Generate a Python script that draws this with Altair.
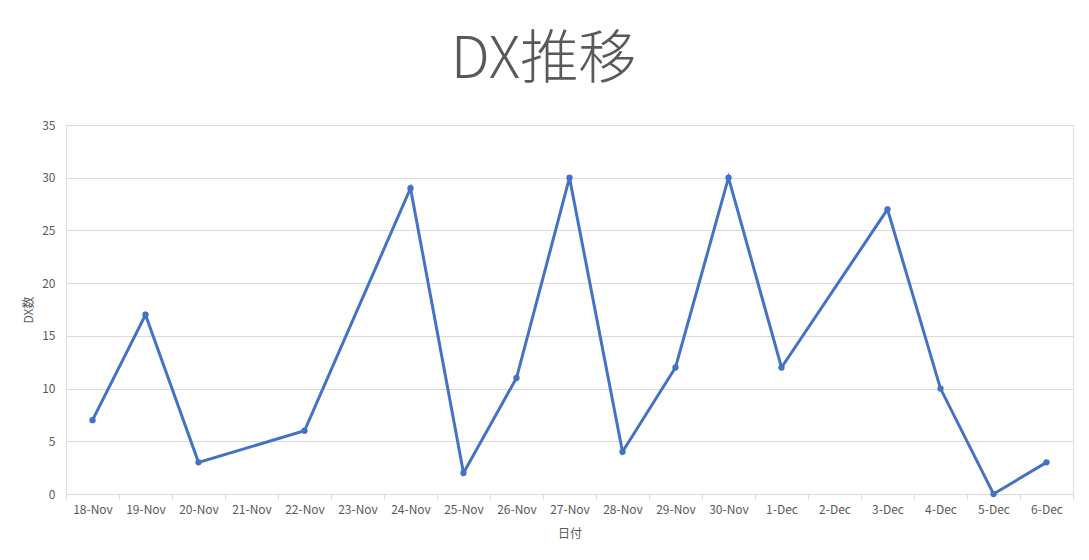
import altair as alt
import pandas as pd

categories = ["18-Nov", "19-Nov", "20-Nov", "21-Nov", "22-Nov", "23-Nov", "24-Nov",
              "25-Nov", "26-Nov", "27-Nov", "28-Nov", "29-Nov", "30-Nov", "1-Dec",
              "2-Dec", "3-Dec", "4-Dec", "5-Dec", "6-Dec"]
dates = ["18-Nov", "19-Nov", "20-Nov", "22-Nov", "24-Nov", "25-Nov", "26-Nov",
         "27-Nov", "28-Nov", "29-Nov", "30-Nov", "1-Dec", "3-Dec", "4-Dec",
         "5-Dec", "6-Dec"]
counts = [7, 17, 3, 6, 29, 2, 11, 30, 4, 12, 30, 12, 27, 10, 0, 3]
y_ticks = [0, 5, 10, 15, 20, 25, 30, 35]

df = pd.DataFrame({"日付": dates, "DX数": counts, "order": list(range(len(dates)))})

FONT = "Noto Sans CJK JP"
GRAY = "#595959"
GRID = "#d9d9d9"
BLUE = "#4472C4"

x = alt.X("日付:N",
          sort=categories,
          scale=alt.Scale(type="band", domain=categories, paddingInner=0, paddingOuter=0),
          axis=alt.Axis(title="日付", labelAngle=0, tickBand="extent", tickSize=5,
                        tickColor=GRID, domainColor=GRID, labelPadding=5,
                        labelColor=GRAY, labelFontSize=12, labelFont=FONT,
                        titleColor=GRAY, titleFontSize=12, titleFont=FONT,
                        titleFontWeight="normal", titlePadding=13, grid=False))
y = alt.Y("DX数:Q",
          scale=alt.Scale(domain=[0, 35], nice=False),
          axis=alt.Axis(title="DX数", values=y_ticks, tickSize=0, domain=False,
                        labelPadding=11, gridColor=GRID, labelColor=GRAY,
                        labelFontSize=12, labelFont=FONT, titleColor=GRAY,
                        titleFontSize=12, titleFont=FONT, titleFontWeight="normal",
                        titlePadding=6))

base = alt.Chart(df).encode(x=x, y=y, order="order:Q")
line = base.mark_line(color=BLUE, strokeWidth=3)
pts = base.mark_point(color=BLUE, filled=True, opacity=1, size=40)

chart = (line + pts).properties(
    width=1007, height=369,
    title=alt.TitleParams("DX推移", fontSize=58, font=FONT, fontWeight=300,
                          color=GRAY, anchor="middle", frame="group", dx=-26,
                          offset=29),
    autosize=alt.AutoSizeParams(type="none"),
    padding={"left": 58, "top": 117, "right": 8, "bottom": 58},
).configure_view(stroke=None).configure(background="white")

chart.save("out.html", embed_options={"renderer": "svg", "actions": False})
